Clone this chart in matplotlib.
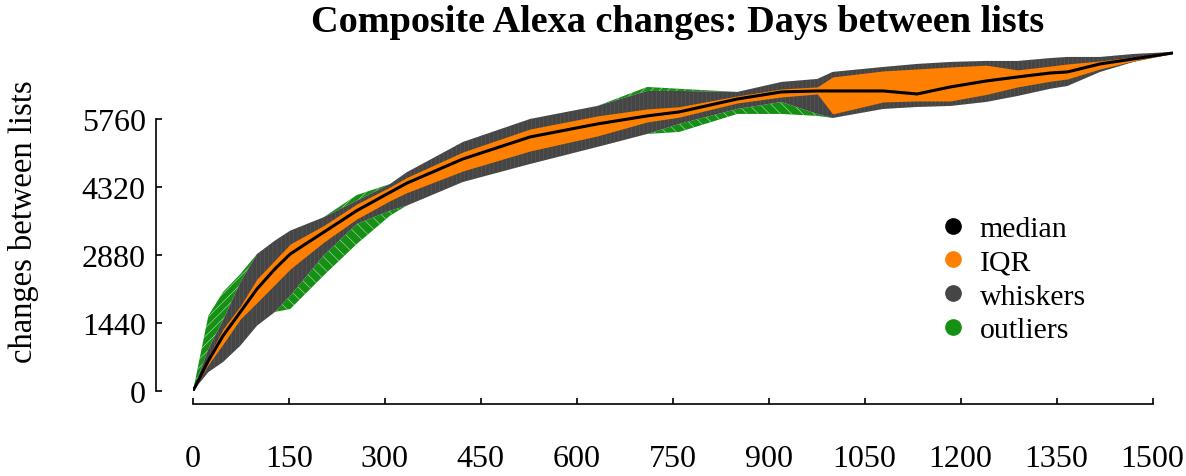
import matplotlib.pyplot as plt
from matplotlib.lines import Line2D
import numpy as np

plt.rcParams['font.family'] = ['Liberation Serif', 'DejaVu Serif']
plt.rcParams['hatch.linewidth'] = 0.4

# days between lists (x) and the distribution of changes at each
days = np.array([0, 24, 47, 74, 100, 128, 152, 204, 256, 308, 334, 422, 527, 632, 710,
                 760, 851, 920, 976, 1000, 1079, 1132, 1184, 1240, 1289, 1340, 1367,
                 1418, 1470, 1532])
median = np.array([0, 640, 1171, 1673, 2160, 2584, 2902, 3360, 3819, 4207, 4400, 4914,
                   5380, 5655, 5825, 5910, 6184, 6333, 6354, 6354, 6354, 6290, 6439,
                   6565, 6650, 6734, 6757, 6926, 7032, 7158])
q1 = np.array([0, 560, 995, 1525, 1871, 2255, 2584, 3148, 3643, 4030, 4200, 4660,
               5083, 5401, 5697, 5800, 6100, 6227, 6290, 5867, 6121, 6142, 6142, 6280,
               6439, 6560, 6608, 6820, 6989, 7150])
q3 = np.array([0, 720, 1313, 1800, 2372, 2770, 3113, 3501, 3960, 4320, 4520, 5062,
               5549, 5825, 5973, 6020, 6248, 6396, 6440, 6651, 6778, 6820, 6862, 6900,
               6800, 6880, 6926, 6989, 7074, 7165])
whisk_lo = np.array([0, 400, 614, 960, 1383, 1673, 2019, 2866, 3537, 3819, 3925, 4427,
                     4808, 5168, 5443, 5655, 5973, 6121, 5867, 5782, 5973, 6015, 6036,
                     6121, 6248, 6400, 6460, 6757, 6968, 7140])
whisk_hi = np.array([0, 890, 1500, 2300, 2900, 3184, 3396, 3678, 4030, 4384, 4631, 5274,
                     5761, 6036, 6354, 6354, 6333, 6545, 6608, 6757, 6862, 6926, 6968,
                     6990, 6989, 7050, 7074, 7074, 7137, 7180])
out_lo = np.array([0, 400, 614, 960, 1383, 1673, 1737, 2442, 3113, 3713, 3925, 4427,
                   4808, 5168, 5443, 5486, 5867, 5867, 5825, 5782, 5973, 6015, 6036,
                   6121, 6248, 6400, 6460, 6757, 6968, 7140])
out_hi = np.array([0, 1596, 2097, 2478, 2900, 3184, 3396, 3678, 4150, 4384, 4631, 5274,
                   5761, 6036, 6439, 6400, 6333, 6545, 6608, 6757, 6862, 6926, 6968,
                   6990, 6989, 7050, 7074, 7074, 7137, 7180])

xticks = np.arange(0, 1501, 150)
yticks = np.arange(0, 5761, 1440)

fig = plt.figure(figsize=(11.86, 4.77), dpi=100)
ax = fig.add_axes([193 / 1186, 85 / 477, 980 / 1186, 340 / 477])

green = '#159015'
ax.fill_between(days, out_lo, whisk_lo, facecolor=green, edgecolor='#b8e0b8',
                hatch='\\\\\\', linewidth=0, zorder=1)
ax.fill_between(days, whisk_hi, out_hi, facecolor=green, edgecolor='#b8e0b8',
                hatch='////', linewidth=0, zorder=1)
ax.fill_between(days, whisk_lo, whisk_hi, facecolor='#454545', edgecolor='#5c5c5c',
                hatch='||||', linewidth=0, zorder=2)
ax.fill_between(days, q1, q3, color='#ff8000', linewidth=0, zorder=3)
ax.plot(days, median, color='black', lw=2.2, zorder=4)

ax.set_xlim(0, 1532)
ax.set_ylim(0, 7200)
ax.set_xticks(xticks)
ax.set_yticks(yticks)
ax.tick_params(direction='in', length=4, width=1.2, labelsize=23)
ax.tick_params(axis='x', pad=29)
ax.tick_params(axis='y', pad=7)

for side in ['top', 'right']:
    ax.spines[side].set_visible(False)
ax.spines['left'].set_position(('outward', 27))
ax.spines['bottom'].set_position(('outward', 9.5))
ax.spines['left'].set_bounds(0, 5760)
ax.spines['bottom'].set_bounds(0, 1500)
ax.spines['left'].set_linewidth(1.2)
ax.spines['bottom'].set_linewidth(1.2)

ax.set_ylabel('changes between lists', fontsize=23.5)
ax.yaxis.set_label_coords((39 - 193) / 980, (392 - 222) / 340)
fig.text(678 / 1186, 1 - 22 / 477, 'Composite Alexa changes: Days between lists',
         ha='center', va='center', fontsize=27.5, fontweight='bold')

handles = [Line2D([], [], marker='o', ls='none', ms=11, color=c)
           for c in ['black', '#ff8000', '#454545', green]]
ax.legend(handles, ['median', 'IQR', 'whiskers', 'outliers'], frameon=False,
          fontsize=21.5, loc='upper left', bbox_to_anchor=(0.748, 0.552),
          handlelength=1.0, handletextpad=0.4, labelspacing=0.23, borderaxespad=0)

fig.savefig('out.png', dpi=100)
